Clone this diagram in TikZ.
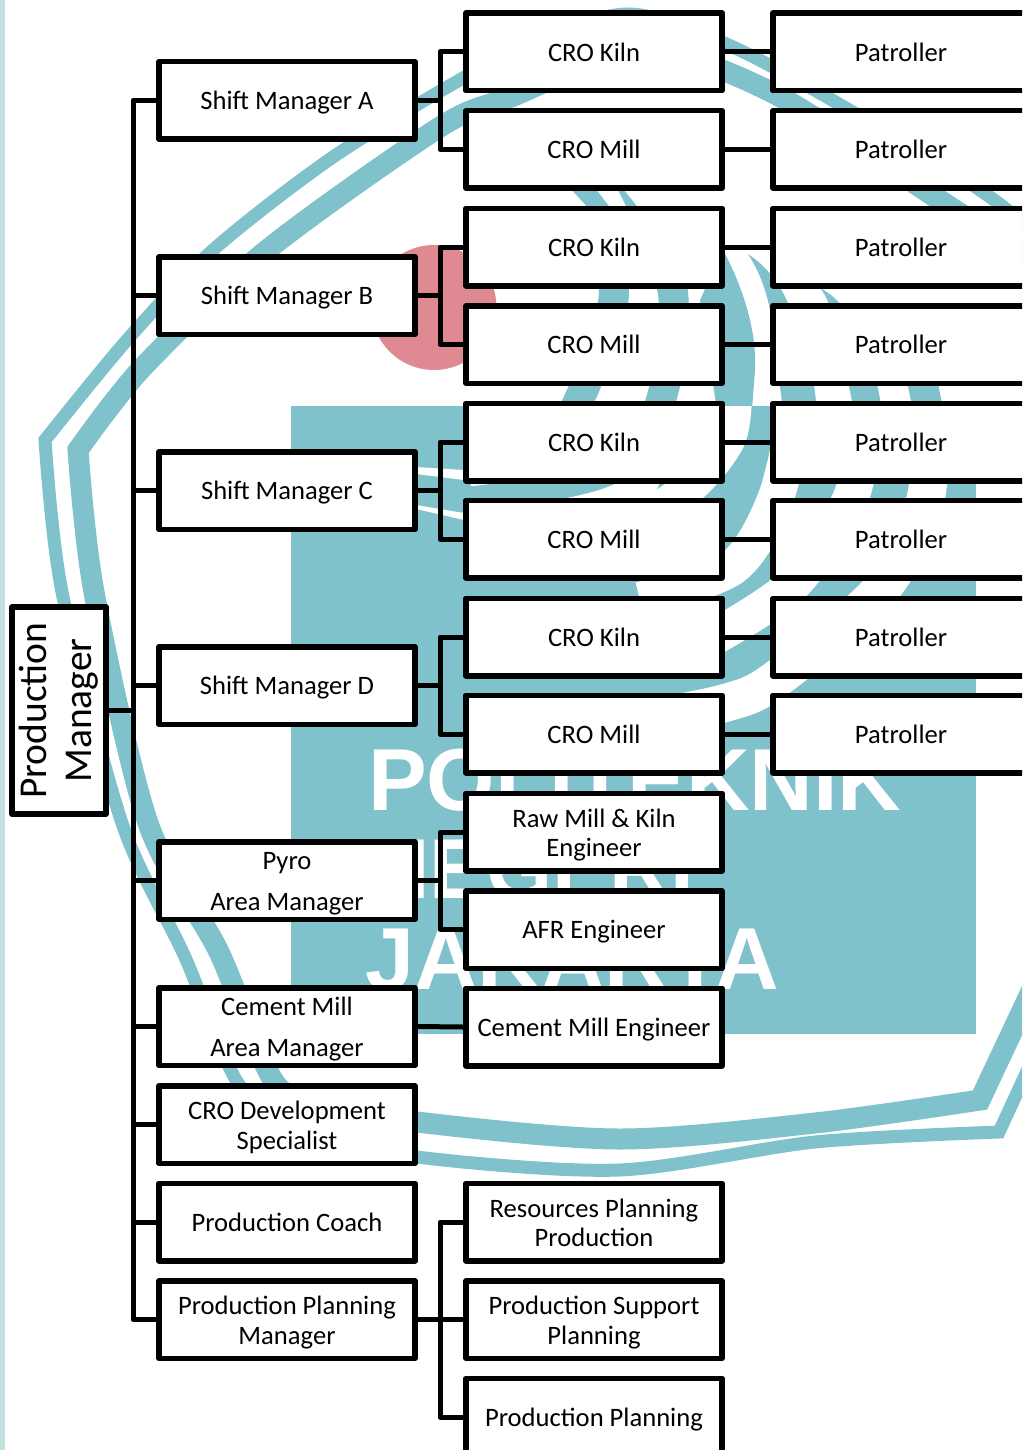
\documentclass[tikz,border=0pt]{standalone}
\usepackage{fontspec}
\setmainfont{Carlito}
\newfontfamily\markfont{Liberation Sans}[Scale=1]
\newcommand{\topline}{\rule{0pt}{.95em}}
\definecolor{markteal}{HTML}{7FC2CB}
\definecolor{markred}{HTML}{DF8A93}
\definecolor{markstrip}{HTML}{BFE0DC}
\tikzset{
    basebox/.style={draw=black, fill=white, line width=5.5pt, line join=round, inner sep=0pt, align=center, font=\fontsize{26.6}{29.5}\selectfont,
        execute at begin node={\rule[-.2em]{0pt}{1.1em}}, execute at end node={\rule[-.2em]{0pt}{.8em}}},
    orgbox/.style={basebox, minimum width=256pt, minimum height=77.5pt},
    link/.style={draw=black, line width=5pt, line join=round},
    ringthick/.style={draw=markteal, line width=21pt},
    ringthin/.style={draw=markteal, line width=13pt},
    markword/.style={white, inner sep=0pt, anchor=base west, font=\markfont\bfseries\fontsize{88}{88}\selectfont}
}
\begin{document}
\begin{tikzpicture}[x=1pt, y=-1pt]
    \useasboundingbox (0,0) rectangle (1022,1450);
    \clip (0,0) rectangle (1022,1450);

    % Striscia a sinistra e anelli del logo
    \fill[markstrip] (0,0) rectangle (5,1450);
    \draw[ringthin] plot[smooth] coordinates {(1100,290) (990,197) (832,100) (724,43) (630,14) (540,38) (463,78) (333,157) (213,250) (127,340) (45,440)}
        -- plot[smooth] coordinates {(45,440) (62,592) (122,823) (185,957) (238,1083) (300,1130) (417,1157) (619,1170) (815,1142) (999,1132)}
        -- (1060,1000);
    \draw[ringthick] plot[smooth] coordinates {(1100,310) (1022,255) (935,197) (771,92) (640,50) (511,97) (440,127) (267,250) (143,367) (78,450)}
        -- plot[smooth] coordinates {(78,450) (94,592) (148,823) (218,950) (275,1083) (330,1105) (417,1122) (619,1139) (815,1123) (980,1100)}
        -- (1060,930);

    % Bande del logo sopra il riquadro
    \fill[markteal] (570,188) -- (595,188) -- (612,210) -- (590,210) -- cycle;
    \fill[markteal] (618,190) -- (624,190) -- (640,210) -- (628,210) -- cycle;
    \draw[markteal, line width=30pt] plot[smooth] coordinates {(602,230) (614,293) (600,345) (582,393) (555,440) (500,465) (470,470)};
    \draw[markteal, line width=30pt] plot[smooth] coordinates {(640,225) (673,293) (663,393) (625,470) (540,510) (470,518)};
    \fill[markteal] (723,250) .. controls (742,285) and (757,330) .. (755,370) -- (752,410) -- (717,410) -- (700,300) -- cycle;
    \fill[markteal] (748,254) .. controls (775,272) and (792,300) .. (800,345) -- (775,345) .. controls (772,310) and (765,280) .. cycle;
    \fill[markteal] (820,288) .. controls (840,298) and (855,320) .. (862,345) -- (835,345) .. controls (835,320) and (830,300) .. cycle;
    \draw[markteal, line width=34pt] (792,345) -- (800,410);
    \draw[markteal, line width=28pt] (855,345) -- (868,410);
    \draw[markteal, line width=30pt] (915,345) -- (928,410);

    % Riquadro con le bande in bianco
    \fill[markteal] (291,406) rectangle (976,1034);
    \begin{scope}
        \clip (291,406) rectangle (976,1034);
        \draw[white, line width=32pt] plot[smooth] coordinates {(582,393) (555,440) (500,465) (470,470)};
        \draw[white, line width=34pt] plot[smooth] coordinates {(663,393) (636,490) (540,520) (470,518)};
        \draw[white, line width=34pt] plot[smooth] coordinates {(735,395) (728,440) (686,490) (600,540) (530,552)};
        \draw[white, line width=36pt] plot[smooth] coordinates {(800,393) (776,497) (733,567) (640,600)};
        \draw[white, line width=36pt] plot[smooth] coordinates {(868,393) (851,497) (790,587) (700,645)};
        \draw[white, line width=38pt] plot[smooth] coordinates {(928,393) (926,497) (883,587) (775,680) (725,703) (640,720)};
        \fill[white] (416,467) -- (464,470) -- (464,480) -- (416,474) -- cycle;
        \fill[white] (416,505) -- (464,513) -- (464,520) -- (416,509) -- cycle;
    \end{scope}
    \node[markword] (wordone) at (368,810) {POLITEKNIK};
    \node[markword, font=\markfont\bfseries\fontsize{85}{85}\selectfont] (wordtwo) at (368,898) {NEGERI};
    \node[markword, font=\markfont\bfseries\fontsize{88}{88}\selectfont] (wordthree) at (365,989) {JAKARTA};
    \fill[markred] (434,307.5) circle (62.5);

    % Primo livello
    \node[basebox, rotate=90, minimum width=207pt, minimum height=94pt, font=\fontsize{39.5}{45}\selectfont] (pm) at (59,710.5) {Production\\Manager};
    \foreach \name/\yy/\txt in {sma/100.5/Shift Manager A, smb/295.5/Shift Manager B, smc/490.5/Shift Manager C, smd/685.5/Shift Manager D, coach/1222/Production Coach}
        \node[orgbox] (\name) at (287,\yy) {\txt};
    \node[orgbox] (pyro) at (287,880.5) {\topline Pyro\\[11.5pt]Area Manager};
    \node[orgbox] (cem) at (287,1026.5) {\topline Cement Mill\\[11.5pt]Area Manager};
    \node[orgbox] (dev) at (287,1124.5) {\topline CRO Development\\Specialist};
    \node[orgbox] (ppm) at (287,1319.5) {\topline Production Planning\\Manager};

    % Secondo e terzo livello
    \foreach \name/\yy/\txt in {ka/52/CRO Kiln, ma/149.5/CRO Mill, kb/247/CRO Kiln, mb/344.5/CRO Mill, kc/442/CRO Kiln, mc/539/CRO Mill, kd/637/CRO Kiln, md/734/CRO Mill}{
        \node[orgbox] (\name) at (594,\yy) {\txt};
        \node[orgbox] (p\name) at (901,\yy) {Patroller};
        \draw[link] (\name.east) -- (p\name.west);
    }
    \node[orgbox] (raw) at (594,832) {\topline Raw Mill \& Kiln\\Engineer};
    \node[orgbox] (afr) at (594,929.5) {AFR Engineer};
    \node[orgbox] (cme) at (594,1027) {Cement Mill Engineer};
    \node[orgbox] (res) at (594,1222) {\topline Resources Planning\\Production};
    \node[orgbox] (sup) at (594,1319.5) {\topline Production Support\\Planning};
    \node[orgbox] (plan) at (594,1417) {Production Planning};

    % Collegamenti
    \coordinate (bus) at (133,710.5);
    \coordinate (fork) at (440,0);
    \draw[link] (pm.south) -- (bus);
    \draw[link] (sma.west) -- (bus |- sma.west) -- (bus |- ppm.west) -- (ppm.west);
    \foreach \name in {smb,smc,smd,pyro,cem,dev,coach}
        \draw[link] (bus |- \name.west) -- (\name.west);
    \foreach \boss/\up/\down in {sma/ka/ma, smb/kb/mb, smc/kc/mc, smd/kd/md, pyro/raw/afr, ppm/res/plan}{
        \draw[link] (\up.west) -| (fork |- \boss.east) |- (\down.west);
        \draw[link] (\boss.east) -- (fork |- \boss.east);
    }
    \draw[link] (cem.east) -- (cme.west);
    \draw[link] (ppm.east) -- (sup.west);
\end{tikzpicture}
\end{document}
